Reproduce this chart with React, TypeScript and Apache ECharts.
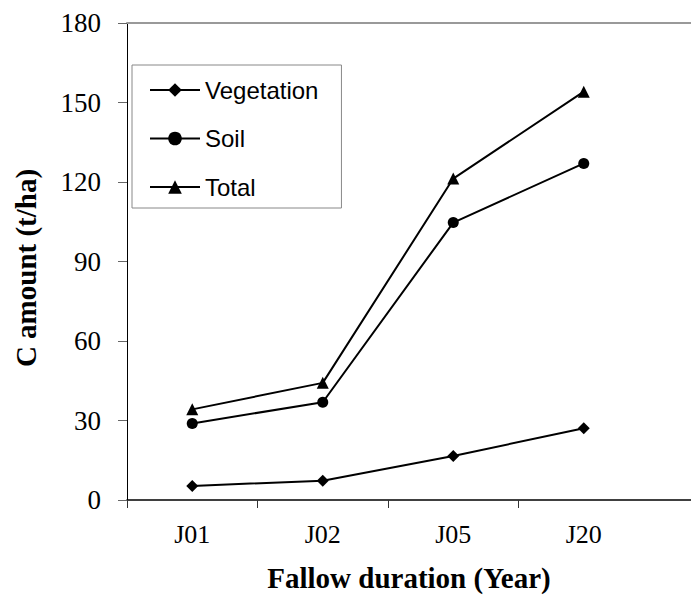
import React, { useEffect, useRef } from "react";
import * as echarts from "echarts";

const categories = ["J01", "J02", "J05", "J20"];
const vegetation = [5.3, 7.3, 16.6, 27.1];
const soil = [28.9, 36.9, 104.7, 127.0];
const total = [34.2, 44.2, 121.3, 154.1];
const yTicks = { min: 0, max: 180, interval: 30 };

const serif = "'Liberation Serif', 'Times New Roman', serif";
const sans = "'Liberation Sans', Arial, sans-serif";

function toPoints(vals: number[]) {
  return categories.map((_, i) => [i + 0.5, vals[i]]);
}

export default function App() {
  const ref = useRef<HTMLDivElement>(null);
  useEffect(() => {
    if (!ref.current) return;
    const chart = echarts.init(ref.current, null, { renderer: "svg" });
    const mk = (name: string, vals: number[], symbol: string, size: number) => ({
      name,
      type: "line",
      data: toPoints(vals),
      symbol,
      symbolSize: size,
      showSymbol: true,
      lineStyle: { color: "#000", width: 2 },
      itemStyle: { color: "#000" },
      xAxisIndex: 0,
      yAxisIndex: 0,
    });
    chart.setOption({
      animation: false,
      backgroundColor: "#fff",
      grid: { left: 127, right: 0, top: 23, bottom: 106, containLabel: false },
      xAxis: [
        {
          type: "value",
          min: 0,
          max: 564 / 130.5,
          interval: 1,
          position: "bottom",
          axisLine: { show: true, lineStyle: { color: "#000", width: 1.5 } },
          axisTick: {
            show: true,
            customValues: [0, 1, 2, 3],
            length: 8,
            inside: false,
            lineStyle: { color: "#333", width: 1 },
          },
          axisLabel: {
            customValues: categories.map((_, i) => i + 0.5),
            formatter: (v: number) => categories[Math.floor(v)] ?? "",
            fontFamily: serif,
            fontSize: 26,
            color: "#000",
            margin: 21,
          },
          splitLine: { show: false },
          name: "Fallow duration (Year)",
          nameLocation: "middle",
          nameGap: 63,
          nameTextStyle: { fontFamily: serif, fontSize: 29, fontWeight: "bold", color: "#000" },
        },
        {
          type: "value",
          min: 0,
          max: 564 / 130.5,
          position: "top",
          axisLine: { show: true, lineStyle: { color: "#999", width: 2 } },
          axisTick: { show: false },
          axisLabel: { show: false },
          splitLine: { show: false },
        },
      ],
      yAxis: {
        type: "value",
        min: yTicks.min,
        max: yTicks.max,
        interval: yTicks.interval,
        axisLine: { show: true, lineStyle: { color: "#000", width: 1 } },
        axisTick: { show: true, length: 9, lineStyle: { color: "#666", width: 1 } },
        axisLabel: { fontFamily: serif, fontSize: 27, color: "#000", margin: 26 },
        splitLine: { show: false },
      },
      legend: {
        orient: "vertical",
        left: 132,
        top: 65,
        padding: [13, 23, 9, 17],
        itemWidth: 50,
        itemHeight: 17,
        itemGap: 24.5,
        borderColor: "#888",
        borderWidth: 1,
        backgroundColor: "#fff",
        data: ["Vegetation", "Soil", "Total"],
        textStyle: { fontFamily: sans, fontSize: 24, color: "#000" },
      },
      graphic: [
        {
          type: "text",
          x: 26,
          y: 268,
          rotation: Math.PI / 2,
          style: {
            text: "C amount (t/ha)",
            fontFamily: serif,
            fontSize: 29,
            fontWeight: "bold",
            fill: "#000",
            align: "center",
            verticalAlign: "middle",
          },
        },
      ],
      series: [
        mk("Vegetation", vegetation, "diamond", 12),
        mk("Soil", soil, "circle", 11),
        mk("Total", total, "triangle", 12),
      ],
    });
    return () => chart.dispose();
  }, []);
  return (
    <div
      ref={ref}
      style={{ position: "fixed", left: 0, top: 0, width: 691, height: 606, background: "#fff" }}
    />
  );
}
